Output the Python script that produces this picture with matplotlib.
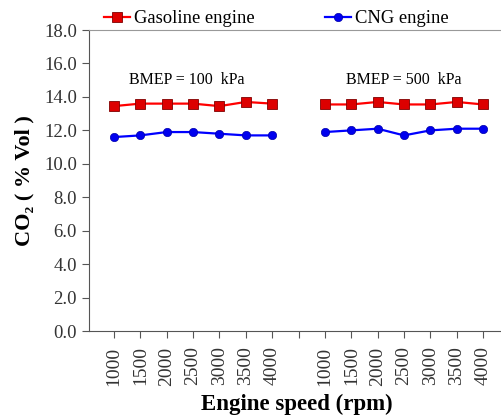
import matplotlib.pyplot as plt
import numpy as np

plt.rcParams['font.family'] = ['Liberation Serif', 'DejaVu Serif']

# Etiquetas del eje x (dos grupos de velocidades)
velocidades = ['1000', '1500', '2000', '2500', '3000', '3500', '4000']
# CO2 (% Vol) a BMEP = 100 kPa
gasolina_100 = [13.45, 13.6, 13.6, 13.6, 13.45, 13.7, 13.6]
gnc_100 = [11.6, 11.7, 11.9, 11.9, 11.8, 11.7, 11.7]
# CO2 (% Vol) a BMEP = 500 kPa
gasolina_500 = [13.55, 13.55, 13.7, 13.55, 13.55, 13.7, 13.55]
gnc_500 = [11.9, 12.0, 12.1, 11.7, 12.0, 12.1, 12.1]

x1 = np.arange(7)
x2 = np.arange(8, 15)

fig = plt.figure(figsize=(5.02, 4.17), dpi=100)
ax = fig.add_axes([0.177, 0.206, 0.83, 0.722])

rojo = dict(color='#ff0000', marker='s', markersize=6.5, markerfacecolor='#dd0000',
            markeredgecolor='#800000', markeredgewidth=0.6, lw=1.6)
azul = dict(color='#0000ff', marker='o', markersize=6, markerfacecolor='#0000ee',
            markeredgecolor='#0000aa', markeredgewidth=0.5, lw=1.6)

ax.plot(x1, gasolina_100, label='Gasoline engine', **rojo)
ax.plot(x2, gasolina_500, **rojo)
ax.plot(x1, gnc_100, label='CNG engine', **azul)
ax.plot(x2, gnc_500, **azul)

ax.text(2.75, 15.0, 'BMEP = 100  kPa', ha='center', va='center', fontsize=11.5)
ax.text(11, 15.0, 'BMEP = 500  kPa', ha='center', va='center', fontsize=11.5)

ax.set_xlim(-0.95, 14.85)
ax.set_ylim(0, 18)
ax.set_yticks(np.arange(0, 18.1, 2))
ax.set_yticklabels(['%.1f' % v for v in np.arange(0, 18.1, 2)], fontsize=13.5, color='#333333')
ax.set_xticks(list(x1) + [7] + list(x2))
ax.set_xticklabels(velocidades + [''] + velocidades, rotation=90, fontsize=14, color='#333333')

ax.spines['right'].set_visible(False)
ax.spines['top'].set_color('#999999')
for s in ['left', 'bottom']:
    ax.spines[s].set_color('#555555')
ax.tick_params(colors='#555555', length=5, labelcolor='#333333')
ax.tick_params(axis='x', pad=6)

ax.set_ylabel('CO₂ ( % Vol )', fontsize=16, fontweight='bold', labelpad=7)
ax.set_xlabel('Engine speed (rpm)', fontsize=16.5, fontweight='bold', labelpad=6)

ax.legend(loc='lower center', bbox_to_anchor=(0.45, 0.985), ncol=2, frameon=False,
          fontsize=13.4, handlelength=1.4, handletextpad=0.2, columnspacing=3.8,
          borderaxespad=0.0)

plt.savefig('out.png', dpi=100)
